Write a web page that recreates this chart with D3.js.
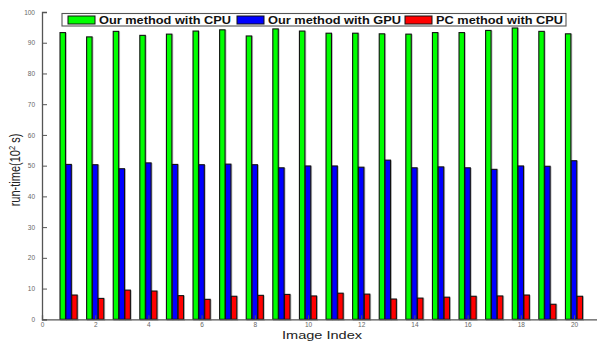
<!DOCTYPE html>
<html><head><meta charset="utf-8">
<script src="https://cdn.jsdelivr.net/npm/d3@7"></script>
<style>body{margin:0;background:#fff}svg{display:block}</style>
</head><body>
<svg id="c" width="597" height="341"></svg>
<script>
const imageIndex = d3.range(1, 21);
const cpuOurs = [93.3,91.9,93.7,92.4,92.8,93.8,94.2,92.2,94.5,93.8,93.1,93.1,92.9,92.8,93.3,93.3,94.0,94.8,93.7,92.9];
const gpuOurs = [50.4,50.3,49.0,50.9,50.4,50.3,50.5,50.3,49.3,49.9,49.9,49.5,51.8,49.3,49.6,49.3,48.8,49.9,49.8,51.6];
const pcCpu   = [7.9,6.8,9.5,9.2,7.7,6.5,7.5,7.8,8.1,7.6,8.5,8.2,6.6,6.9,7.2,7.5,7.6,7.9,4.9,7.5];
const seriesNames = ["Our method with CPU","Our method with GPU","PC method with CPU"];
const seriesColors = ["#00ff00","#0000ff","#ff0000"];
const xTicks = d3.range(0, 21, 2);
const yTicks = d3.range(0, 101, 10);

const FONT = "Liberation Sans, Arial, sans-serif";
const svg = d3.select("#c");
const x = d3.scaleLinear().domain([0, 21]).range([42, 42 + 21 * 26.6]);
const y = d3.scaleLinear().domain([0, 100]).range([319.3, 12]);
const bw = 0.205, off = 0.22;
const series = [cpuOurs, gpuOurs, pcCpu];

// bars
series.forEach((vals, s) => {
  const g = svg.append("g");
  g.selectAll("rect.sh").data(vals).join("rect")
    .attr("x", (d, i) => x(imageIndex[i] + (s - 1) * off - bw / 2) + 0.8)
    .attr("y", d => y(d) + 0.8)
    .attr("width", x(bw) - x(0))
    .attr("height", d => y(0) - y(d))
    .attr("fill", "none").attr("stroke", "#bbb").attr("stroke-width", 1.2);
  g.selectAll("rect.b").data(vals).join("rect")
    .attr("x", (d, i) => x(imageIndex[i] + (s - 1) * off - bw / 2))
    .attr("y", d => y(d))
    .attr("width", x(bw) - x(0))
    .attr("height", d => y(0) - y(d))
    .attr("fill", seriesColors[s]).attr("stroke", "#111").attr("stroke-width", 1.1);
});

// axes
const axCol = "#555";
const ya = svg.append("g").attr("transform", `translate(${x(0)},0)`)
  .call(d3.axisLeft(y).tickValues(yTicks).tickSize(-5).tickPadding(7));
const xa = svg.append("g").attr("transform", `translate(0,${y(0)})`)
  .call(d3.axisBottom(x).tickValues(xTicks).tickSize(-4).tickPadding(3));
[ya, xa].forEach(a => {
  a.select(".domain").attr("stroke", axCol).attr("stroke-width", 1.3);
  a.selectAll(".tick line").attr("stroke", axCol);
  a.selectAll(".tick text").attr("fill", "#666").style("font-family", FONT).style("font-size", "6.5px");
});

// labels
svg.append("text").attr("x", 322).attr("y", 339).attr("text-anchor", "middle")
  .style("font-family", FONT).style("font-size", "11.5px").attr("fill", "#222")
  .attr("textLength", 80).attr("lengthAdjust", "spacingAndGlyphs")
  .text("Image Index");
const yl = svg.append("text").attr("transform", "translate(20,170) scale(1.3,1) rotate(-90)").attr("text-anchor", "middle")
  .style("font-family", FONT).style("font-size", "11px").attr("fill", "#222");
yl.append("tspan").text("run-time(10");
yl.append("tspan").attr("dy", -4).style("font-size", "7.5px").text("2");
yl.append("tspan").attr("dy", 4).text(" s)");

// legend
const lg = svg.append("g");
lg.append("rect").attr("x", 62).attr("y", 13.5).attr("width", 504).attr("height", 12.5)
  .attr("fill", "#fff").attr("stroke", "#555").attr("stroke-width", 1.1);
const swX = [68, 237, 405];
const txtW = [132, 133, 127];
seriesNames.forEach((n, i) => {
  lg.append("rect").attr("x", swX[i]).attr("y", 16).attr("width", 27).attr("height", 8)
    .attr("fill", seriesColors[i]).attr("stroke", "#111").attr("stroke-width", 1);
  lg.append("text").attr("x", swX[i] + 31).attr("y", 24)
    .style("font-family", FONT).style("font-weight", "bold").style("font-size", "11px")
    .attr("textLength", txtW[i]).attr("lengthAdjust", "spacingAndGlyphs")
    .attr("fill", "#111").text(n);
});
</script>
</body></html>
